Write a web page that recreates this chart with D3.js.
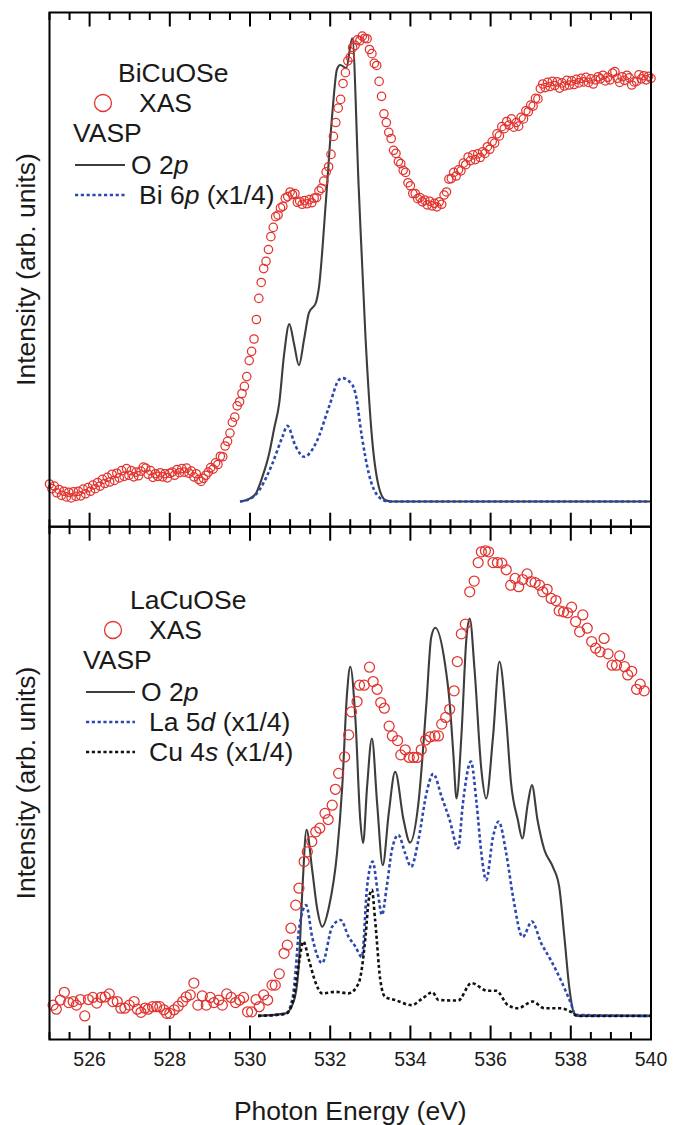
<!DOCTYPE html>
<html>

<head>
    <meta charset="utf-8">
    <script src="https://d3js.org/d3.v7.min.js" charset="utf-8"></script>
    <style>
        body { margin: 0; background: #fff; }
        text { font-family: "Liberation Sans", Arial, sans-serif; fill: #1a1a1a; }
    </style>
</head>

<body>
    <div id="chart_container"></div>
    <script>
        // ---- data (intensities in arbitrary units, 0-100 per panel) ----

        // tick labels of the shared energy axis
        const majorTicks = [526, 528, 530, 532, 534, 536, 538, 540];

        // BiCuOSe, measured XAS, sampled every 0.06 eV from 525.0 eV
        const xasBiStart = 525.0, xasBiStep = 0.06;
        const xasBi = [
            8.3, 7.4, 7.9, 6.6, 7.2, 6.1, 6.9, 5.8, 6.7, 5.6,
            6.8, 5.9, 6.9, 6.0, 7.3, 6.4, 7.6, 6.9, 8.1, 7.4,
            8.6, 7.9, 9.2, 8.4, 9.6, 8.7, 10.2, 9.0, 10.4, 9.5,
            10.9, 9.8, 11.3, 10.0, 10.9, 9.7, 10.6, 9.9, 10.8, 11.6,
            11.4, 10.2, 10.9, 9.6, 10.3, 9.8, 10.5, 9.7, 10.3, 9.5,
            10.4, 10.6, 10.0, 11.1, 10.5, 11.3, 10.6, 11.4, 10.4, 10.8,
            9.7, 10.3, 9.2, 8.8, 9.4, 10.0, 10.6, 11.5, 11.2, 12.4,
            12.1, 13.7, 13.6, 15.7, 16.6, 18.2, 20.3, 21.3, 23.5, 24.3,
            25.9, 27.3, 29.2, 32.3, 34.1, 36.5, 40.3, 44.4, 47.5, 50.2,
            51.6, 53.9, 56.4, 58.2, 60.3, 60.6, 62.0, 62.3, 63.9, 64.2,
            65.1, 64.6, 64.8, 63.1, 63.3, 62.7, 63.4, 62.8, 63.6, 63.0,
            63.9, 64.0, 65.3, 65.8, 67.2, 69.0, 70.0, 72.4, 75.9, 78.6,
            81.4, 83.1, 86.2, 88.3, 90.6, 91.3, 93.2, 93.6, 94.7, 94.5,
            95.4, 95.0, 94.9, 92.8, 92.0, 90.1, 89.7, 86.6, 83.7, 80.3,
            78.6, 76.7, 75.5, 73.2, 72.6, 71.0, 70.6, 69.3, 68.9, 66.9,
            66.3, 64.8, 64.8, 63.8, 64.0, 63.2, 63.5, 62.6, 63.3, 62.4,
            62.9, 62.2, 63.2, 62.7, 64.5, 65.1, 67.6, 67.7, 68.9, 68.2,
            69.4, 69.2, 70.7, 70.4, 71.9, 71.2, 72.3, 71.4, 72.5, 71.8,
            72.9, 72.6, 73.9, 73.4, 74.9, 74.6, 76.4, 76.0, 77.8, 77.4,
            78.8, 78.1, 79.3, 77.7, 78.6, 77.9, 79.6, 79.3, 80.9, 80.7,
            82.0, 81.8, 83.3, 83.2, 85.2, 86.1, 85.4, 86.4, 85.6, 86.6,
            85.8, 86.5, 85.3, 86.3, 85.7, 86.8, 85.9, 86.7, 86.0, 87.0,
            86.3, 87.2, 86.5, 87.4, 86.4, 87.1, 86.1, 86.9, 87.5, 87.1,
            87.8, 86.7, 87.4, 86.9, 88.2, 88.5, 87.2, 86.4, 87.5, 86.8,
            87.8, 87.3, 85.9, 86.5, 86.6, 87.9, 87.1, 87.7, 86.9, 87.6,
            87.2
        ];

        // BiCuOSe, VASP partial DOS [eV, intensity]
        const o2pBi = [
            [529.75, 4.9], [530.0, 5.5], [530.15, 6.5], [530.3, 9.5], [530.48, 14.3],
            [530.6, 19.0], [530.73, 24.1], [530.85, 33.5], [530.98, 39.4], [531.1, 35.5],
            [531.22, 31.4], [531.35, 36.5], [531.47, 41.6], [531.64, 43.5], [531.72, 46.6],
            [531.89, 63.0], [532.05, 80.1], [532.17, 89.0], [532.25, 89.8], [532.4, 89.2],
            [532.55, 95.0], [532.71, 66.1], [532.88, 36.9], [533.04, 17.5], [533.21, 7.8],
            [533.37, 5.2], [533.53, 4.9], [540.0, 4.9]
        ];
        const bi6p = [
            [529.75, 4.9], [530.0, 5.4], [530.23, 7.1], [530.4, 9.5], [530.56, 12.3],
            [530.81, 17.5], [530.93, 19.6], [531.14, 15.6], [531.35, 13.6], [531.64, 16.2],
            [531.97, 23.3], [532.21, 28.5], [532.3, 28.9], [532.55, 27.6], [532.63, 25.9],
            [532.79, 17.5], [532.96, 10.4], [533.21, 5.8], [533.45, 4.9], [540.0, 4.9]
        ];

        // LaCuOSe, measured XAS
        const xasLaE = [
            525.09, 525.17, 525.27, 525.37, 525.48, 525.59, 525.67, 525.77, 525.88, 525.97,
            526.08, 526.18, 526.29, 526.39, 526.49, 526.58, 526.69, 526.78, 526.88, 526.99,
            527.11, 527.19, 527.28, 527.38, 527.46, 527.57, 527.67, 527.75, 527.85, 527.92,
            528.0, 528.11, 528.21, 528.32, 528.41, 528.51, 528.6, 528.7, 528.81, 528.91,
            529.01, 529.1, 529.22, 529.31, 529.42, 529.53, 529.64, 529.74, 529.84, 529.94,
            530.04, 530.15, 530.23, 530.34, 530.44, 530.55, 530.63, 530.73, 530.85, 530.93,
            531.02, 531.14, 531.22, 531.35, 531.43, 531.54, 531.64, 531.74, 531.87, 531.95,
            532.05, 532.13, 532.21, 532.36, 532.46, 532.53, 532.67, 532.73, 532.85, 532.98,
            533.07, 533.17, 533.26, 533.35, 533.47, 533.55, 533.68, 533.76, 533.87, 533.97,
            534.08, 534.17, 534.27, 534.38, 534.49, 534.61, 534.7, 534.78, 534.88, 534.98,
            535.09, 535.17, 535.27, 535.37, 535.48, 535.59, 535.69, 535.77, 535.87, 535.95,
            536.06, 536.17, 536.28, 536.39, 536.5, 536.61, 536.7, 536.8, 536.91, 537.01,
            537.11, 537.22, 537.3, 537.41, 537.51, 537.63, 537.71, 537.82, 537.92, 538.02,
            538.12, 538.22, 538.3, 538.41, 538.52, 538.62, 538.73, 538.83, 538.93, 539.03,
            539.14, 539.22, 539.34, 539.42, 539.52, 539.64, 539.73, 539.83
        ];
        const xasLa = [
            6.7, 5.9, 7.7, 9.2, 7.2, 7.4, 6.7, 7.8, 4.6, 7.8,
            8.2, 7.1, 8.2, 8.3, 8.9, 7.4, 7.4, 6.1, 6.1, 6.7,
            7.4, 5.9, 5.3, 6.1, 5.9, 6.4, 6.4, 6.4, 5.8, 5.1,
            5.1, 5.8, 6.5, 7.4, 8.3, 8.7, 11.0, 6.7, 8.5, 6.7,
            8.2, 7.2, 7.7, 6.7, 8.9, 8.2, 7.2, 7.7, 8.2, 5.4,
            5.4, 7.8, 6.4, 8.7, 7.7, 10.6, 10.6, 12.8, 16.8, 18.4,
            21.7, 26.2, 29.5, 34.7, 36.6, 38.6, 40.5, 41.2, 44.1, 42.9,
            45.7, 48.8, 51.9, 55.1, 59.4, 63.9, 65.9, 69.1, 69.1, 72.6,
            69.8, 68.3, 65.7, 64.6, 61.1, 59.2, 58.3, 55.5, 56.5, 55.0,
            55.0, 55.0, 56.5, 58.4, 59.0, 59.2, 59.2, 61.5, 62.8, 64.4,
            68.0, 73.7, 79.1, 81.0, 87.3, 89.4, 93.0, 95.1, 95.3, 95.1,
            93.0, 93.0, 92.9, 91.6, 88.6, 89.9, 88.3, 89.7, 90.8, 89.3,
            89.1, 88.6, 87.3, 87.8, 86.0, 85.6, 83.6, 83.4, 83.2, 84.3,
            81.5, 79.5, 82.8, 80.2, 77.6, 76.3, 75.6, 78.2, 75.2, 73.0,
            73.0, 74.8, 72.7, 71.1, 71.8, 68.3, 69.3, 68.0
        ];

        // LaCuOSe, VASP partial DOS [eV, intensity]
        const o2pLa = [
            [530.2, 4.6], [530.89, 5.1], [531.1, 7.7], [531.22, 14.9], [531.31, 29.8],
            [531.41, 40.9], [531.55, 33.1], [531.68, 25.3], [531.8, 22.0], [531.97, 25.9],
            [532.17, 36.3], [532.3, 49.3], [532.42, 67.5], [532.5, 72.7], [532.63, 62.3],
            [532.75, 42.8], [532.82, 38.3], [532.92, 49.3], [533.04, 58.7], [533.17, 46.1],
            [533.31, 34.0], [533.46, 44.1], [533.62, 52.2], [533.83, 42.8], [533.99, 38.4],
            [534.2, 46.1], [534.4, 65.6], [534.52, 78.5], [534.62, 80.3], [534.86, 73.4],
            [534.98, 65.6], [535.07, 55.8], [535.15, 47.0], [535.27, 59.0], [535.4, 78.5],
            [535.48, 82.1], [535.6, 72.1], [535.77, 52.6], [535.89, 47.0], [536.06, 59.0],
            [536.22, 73.7], [536.39, 62.3], [536.51, 50.0], [536.68, 42.8], [536.79, 39.2],
            [536.93, 46.1], [537.03, 49.6], [537.17, 42.8], [537.34, 37.0], [537.55, 33.7],
            [537.71, 29.8], [537.84, 20.0], [537.96, 10.3], [538.08, 5.1], [538.17, 4.6],
            [540.0, 4.6]
        ];
        const la5d = [
            [530.2, 4.6], [530.89, 5.0], [531.06, 8.0], [531.14, 13.6], [531.22, 21.4],
            [531.4, 26.2], [531.55, 20.0], [531.8, 14.9], [532.05, 22.0], [532.26, 23.3],
            [532.46, 20.0], [532.63, 18.1], [532.79, 16.1], [532.92, 29.8], [533.06, 34.7],
            [533.19, 28.5], [533.29, 24.3], [533.41, 29.8], [533.54, 37.0], [533.7, 39.9],
            [533.87, 36.3], [534.02, 33.7], [534.2, 38.9], [534.4, 48.0], [534.57, 51.8],
            [534.78, 47.3], [534.98, 42.8], [535.19, 37.3], [535.31, 46.1], [535.51, 54.2],
            [535.65, 46.1], [535.77, 36.3], [535.89, 31.1], [536.06, 39.5], [536.2, 42.5],
            [536.39, 36.3], [536.56, 27.8], [536.8, 20.0], [537.03, 23.0], [537.26, 18.8],
            [537.5, 15.5], [537.75, 11.6], [538.0, 7.1], [538.12, 4.8], [540.0, 4.6]
        ];
        const cu4s = [
            [530.2, 4.6], [530.89, 5.0], [531.06, 7.1], [531.22, 14.9], [531.33, 19.1],
            [531.47, 15.5], [531.64, 11.0], [531.8, 9.0], [532.13, 9.3], [532.46, 9.0],
            [532.71, 11.0], [532.88, 20.0], [532.96, 27.2], [533.04, 29.2], [533.12, 23.3],
            [533.25, 11.6], [533.37, 8.3], [533.62, 7.7], [534.03, 6.7], [534.3, 8.0],
            [534.55, 9.2], [534.7, 7.7], [535.19, 7.6], [535.52, 11.0], [535.93, 9.5],
            [536.14, 9.5], [536.43, 6.7], [536.68, 6.1], [537.05, 7.4], [537.34, 6.1],
            [537.75, 6.1], [538.0, 5.4], [538.17, 4.6], [540.0, 4.6]
        ];

        // ---- layout ----
        const width = 681, height = 1125;
        const frameLeft = 49.5, frameRight = 651;
        const red = "#e2342f", blue = "#2d47b0", gray = "#3d3d3d";
        const bigFont = "26.5px";

        const svg = d3.select("#chart_container").append("svg")
            .attr("width", width).attr("height", height);

        const x = d3.scaleLinear().domain([525, 540]).range([frameLeft, frameRight]);
        const minorTicks = d3.range(525, 540.01, 0.5).filter(v => v % 2 !== 0);

        const line = y => d3.line().x(d => x(d[0])).y(d => y(d[1])).curve(d3.curveMonotoneX);

        // draws one panel: frame, inward ticks, data and legend
        function drawPanel(top, bottom, opts) {
            const y = d3.scaleLinear().domain([0, 100]).range([bottom, top]);
            const g = svg.append("g");

            // inward ticks on top and bottom edges
            [[top, 1], [bottom, -1]].forEach(([yy, dir]) => {
                g.selectAll(null).data(majorTicks).enter().append("line")
                    .attr("x1", d => x(d)).attr("x2", d => x(d))
                    .attr("y1", yy).attr("y2", yy + dir * 14)
                    .attr("stroke", "#000").attr("stroke-width", 2);
                g.selectAll(null).data(minorTicks).enter().append("line")
                    .attr("x1", d => x(d)).attr("x2", d => x(d))
                    .attr("y1", yy).attr("y2", yy + dir * 7.5)
                    .attr("stroke", "#000").attr("stroke-width", 2);
            });

            // calculated curves
            opts.curves.forEach(c => {
                g.append("path").datum(c.data)
                    .attr("d", line(y))
                    .attr("fill", "none")
                    .attr("stroke", c.color)
                    .attr("stroke-width", c.width)
                    .attr("stroke-dasharray", c.dash);
            });

            // measured XAS
            g.selectAll(null).data(opts.xas).enter().append("circle")
                .attr("cx", d => x(d[0])).attr("cy", d => y(d[1]))
                .attr("r", opts.r)
                .attr("fill", "none").attr("stroke", red).attr("stroke-width", 1.25);

            // frame
            g.append("rect")
                .attr("x", frameLeft).attr("y", top)
                .attr("width", frameRight - frameLeft).attr("height", bottom - top)
                .attr("fill", "none").attr("stroke", "#000").attr("stroke-width", 2);

            // y label
            g.append("text")
                .attr("transform", `translate(35,${(top + bottom) / 2}) rotate(-90)`)
                .attr("text-anchor", "middle")
                .style("font-size", bigFont)
                .text("Intensity (arb. units)");

            // legend
            const L = opts.legend;
            const lg = g.append("g").style("font-size", bigFont);
            lg.append("text").attr("x", L.x0).attr("y", L.y0).text(opts.name);
            lg.append("circle").attr("cx", L.cx).attr("cy", L.y0 + 21)
                .attr("r", 8.5).attr("fill", "none").attr("stroke", red).attr("stroke-width", 1.3);
            lg.append("text").attr("x", L.tx).attr("y", L.y0 + 30).text("XAS");
            lg.append("text").attr("x", L.vx).attr("y", L.y0 + 60).text("VASP");
            opts.curves.forEach((c, i) => {
                const yy = L.y0 + 83 + i * 30;
                lg.append("line")
                    .attr("x1", L.lx1).attr("x2", L.lx2).attr("y1", yy).attr("y2", yy)
                    .attr("stroke", c.color).attr("stroke-width", c.width)
                    .attr("stroke-dasharray", c.dash);
                const t = lg.append("text").attr("x", i === 0 ? L.tx - 8 : L.tx).attr("y", yy + 9);
                t.append("tspan").text(c.label[0]);
                t.append("tspan").style("font-style", "italic").text(c.label[1]);
                t.append("tspan").text(c.label[2]);
            });
        }

        drawPanel(12.5, 526.7, {
            name: "BiCuOSe",
            r: 4.2,
            xas: xasBi.map((v, i) => [xasBiStart + i * xasBiStep, v]),
            curves: [
                { data: o2pBi, color: gray, width: 2.1, dash: null, label: ["O 2", "p", ""] },
                { data: bi6p, color: blue, width: 2.6, dash: "3.2,2.6", label: ["Bi 6", "p", " (x1/4)"] }
            ],
            legend: { x0: 118, y0: 82, cx: 103, tx: 139, vx: 73, lx1: 75, lx2: 125 }
        });

        drawPanel(526.7, 1039.5, {
            name: "LaCuOSe",
            r: 5,
            xas: xasLaE.map((e, i) => [e, xasLa[i]]),
            curves: [
                { data: o2pLa, color: gray, width: 2.1, dash: null, label: ["O 2", "p", ""] },
                { data: la5d, color: blue, width: 2.6, dash: "3.2,2.6", label: ["La 5", "d", " (x1/4)"] },
                { data: cu4s, color: "#111", width: 2.6, dash: "3.2,2.6", label: ["Cu 4", "s", " (x1/4)"] }
            ],
            legend: { x0: 130, y0: 609, cx: 113, tx: 149, vx: 83, lx1: 86, lx2: 135 }
        });

        // shared energy axis labels
        svg.append("g").selectAll("text").data(majorTicks).enter().append("text")
            .attr("x", d => x(d)).attr("y", 1066)
            .attr("text-anchor", "middle")
            .style("font-size", "19.5px")
            .text(d => d);

        svg.append("text")
            .attr("x", (frameLeft + frameRight) / 2).attr("y", 1120)
            .attr("text-anchor", "middle")
            .style("font-size", bigFont)
            .text("Photon Energy (eV)");
    </script>
</body>

</html>
